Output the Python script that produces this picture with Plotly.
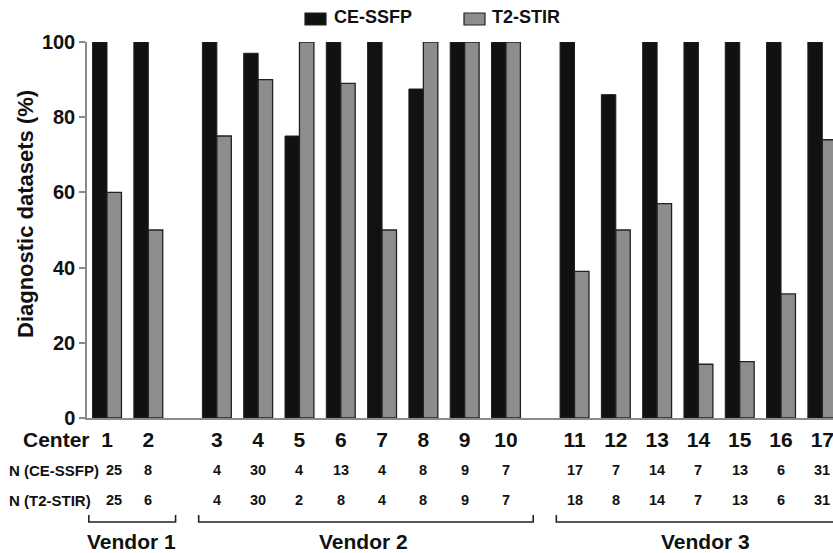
import plotly.graph_objects as go

# ---- data ----
centers = ["1", "2", "3", "4", "5", "6", "7", "8", "9", "10", "11", "12", "13", "14", "15", "16", "17"]
vendor_of_center = [1, 1, 2, 2, 2, 2, 2, 2, 2, 2, 3, 3, 3, 3, 3, 3, 3]
ce_ssfp = [100, 100, 100, 97, 75, 100, 100, 87.5, 100, 100, 100, 86, 100, 100, 100, 100, 100]
t2_stir = [60, 50, 75, 90, 100, 89, 50, 100, 100, 100, 39, 50, 57, 14.3, 15, 33, 74]
n_ce_ssfp = ["25", "8", "4", "30", "4", "13", "4", "8", "9", "7", "17", "7", "14", "7", "13", "6", "31"]
n_t2_stir = ["25", "6", "4", "30", "2", "8", "4", "8", "9", "7", "18", "8", "14", "7", "13", "6", "31"]
vendors = ["Vendor 1", "Vendor 2", "Vendor 3"]
series_names = ["CE-SSFP", "T2-STIR"]
y_ticks = [0, 20, 40, 60, 80, 100]
y_title = "Diagnostic datasets (%)"

# ---- layout helpers ----
W, H = 833, 553
L, R, T, B = 87, 0, 42, 135
GROUP_GAP = 0.66
pos = [i + GROUP_GAP * (v - 1) for i, v in enumerate(vendor_of_center)]
PX_PER_UNIT = 41.3
X0 = -20 / PX_PER_UNIT
X1 = X0 + (W - L - R) / PX_PER_UNIT

plot_h = H - T - B
def py(pix):  # pixel y -> paper y
    return (H - B - pix) / plot_h
def px(pix):  # pixel x -> paper x
    return (pix - L) / (W - L - R)

FONT = "Arial, Liberation Sans, Helvetica, sans-serif"
BLACK = "#111111"
GRAY = "#8d8d8d"
EDGE = "#222222"
AXIS = "#8a8a8a"

fig = go.Figure()
fig.add_trace(go.Bar(x=pos, y=ce_ssfp, name=series_names[0],
                     marker=dict(color=BLACK, line=dict(color=EDGE, width=1))))
fig.add_trace(go.Bar(x=pos, y=t2_stir, name=series_names[1],
                     marker=dict(color=GRAY, line=dict(color=EDGE, width=1.3))))

annotations = []
shapes = []

# y-axis title
annotations.append(dict(x=px(25), y=py(214), xref="paper", yref="paper", text=y_title,
                        textangle=-90, showarrow=False,
                        font=dict(family=FONT, size=22, color="#111", weight="bold"),
                        xanchor="center", yanchor="middle"))

# left row labels
annotations.append(dict(x=px(56), y=py(439), xref="paper", yref="paper", text="Center",
                        showarrow=False, font=dict(family=FONT, size=21, color="#111", weight="bold"),
                        xanchor="center", yanchor="middle"))
annotations.append(dict(x=px(7), y=py(470), xref="paper", yref="paper", text="N (CE-SSFP)",
                        showarrow=False, font=dict(family=FONT, size=15, color="#111", weight="bold"),
                        xanchor="left", yanchor="middle"))
annotations.append(dict(x=px(7), y=py(500), xref="paper", yref="paper", text="N (T2-STIR)",
                        showarrow=False, font=dict(family=FONT, size=15, color="#111", weight="bold"),
                        xanchor="left", yanchor="middle"))

for i, p in enumerate(pos):
    shift = 7 if i == 0 else 0
    for txt, yy in ((n_ce_ssfp[i], 470), (n_t2_stir[i], 500)):
        annotations.append(dict(x=p, y=py(yy), xref="x", yref="paper", text=txt, showarrow=False,
                                xshift=shift,
                                font=dict(family=FONT, size=14.5, color="#111", weight="bold"),
                                xanchor="center", yanchor="middle"))

# vendor brackets
bracket_idx = [[i for i, v in enumerate(vendor_of_center) if v == k + 1] for k in range(len(vendors))]
for k, idx in enumerate(bracket_idx):
    xa = pos[idx[0]] - 0.44
    xb = pos[idx[-1]] + 0.66 if k < 2 else X1 + 1
    ybar, ytop = py(522), py(515)
    shapes.append(dict(type="path", xref="x", yref="paper",
                       path=f"M {xa},{ytop} L {xa},{ybar} L {xb},{ybar} L {xb},{ytop}",
                       line=dict(color="#222", width=1.6)))
xc = [0.6, 6.2, 14.5]
for k, name in enumerate(vendors):
    annotations.append(dict(x=xc[k], y=py(541), xref="x", yref="paper", text=name, showarrow=False,
                            font=dict(family=FONT, size=21, color="#111", weight="bold"),
                            xanchor="center", yanchor="middle"))

# legend (manual)
for (x0, x1, col, lbl, tx) in ((305, 326, BLACK, series_names[0], 332),
                              (464, 485, GRAY, series_names[1], 490)):
    shapes.append(dict(type="rect", xref="paper", yref="paper", x0=px(x0), x1=px(x1),
                       y0=py(25), y1=py(13), fillcolor=col, line=dict(color=EDGE, width=1.2)))
    annotations.append(dict(x=px(tx), y=py(17), xref="paper", yref="paper", text=lbl, showarrow=False,
                            font=dict(family=FONT, size=18, color="#111", weight="bold"),
                            xanchor="left", yanchor="middle"))

fig.update_layout(
    width=W, height=H,
    margin=dict(l=L, r=R, t=T, b=B, pad=0),
    paper_bgcolor="white", plot_bgcolor="white",
    barmode="group", bargap=0.3, bargroupgap=0,
    showlegend=False,
    annotations=annotations, shapes=shapes,
    xaxis=dict(range=[X0, X1], tickvals=pos, ticktext=centers, showgrid=False, zeroline=False,
               showline=True, linecolor=AXIS, linewidth=1.5, ticks="",
               tickfont=dict(family=FONT, size=21, color="#111", weight="bold"),
               ticklabelstandoff=2, ticklabeloverflow="allow"),
    yaxis=dict(range=[0, 100], tickvals=y_ticks, showgrid=False, zeroline=False,
               showline=True, linecolor=AXIS, linewidth=1.5, ticks="outside", ticklen=6,
               tickcolor=AXIS, tickwidth=1.5,
               tickfont=dict(family=FONT, size=20, color="#111", weight="bold")),
)

fig.write_html("out.html", config={"displayModeBar": False},
               post_script="document.body.style.margin='0px';document.body.style.overflow='hidden';")
